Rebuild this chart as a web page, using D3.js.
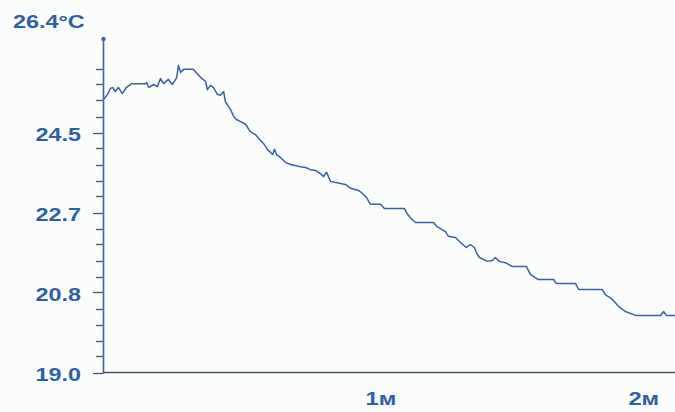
<!DOCTYPE html>
<html>
<head>
<meta charset="utf-8">
<title>Temperature log</title>
<style>
body { margin: 0; background: #fbfcfc; }
#chart { width: 675px; height: 412px; display: block; }
.lbl {
  font-family: "Liberation Sans", Arial, sans-serif;
  font-weight: bold;
  fill: #2f5fa6;
}
</style>
</head>
<body>
<svg id="chart" width="675" height="412"></svg>
<script src="https://d3js.org/d3.v7.min.js"></script>
<script>
// time in seconds, temperature in °C
const times = [0, 0.9, 1.6, 2.1, 2.7, 3.4, 4.3, 5.2, 6.4, 9.6, 9.8, 10.3, 11.4, 12.3, 13.0, 13.7,
  14.8, 15.7, 16.7, 17.1, 17.6, 18.3, 18.9, 20.5, 21.4, 22.4, 23.3, 23.7, 24.4, 25.1, 26.0, 26.7,
  27.4, 27.8, 29.0, 29.7, 30.3, 31.3, 32.4, 33.5, 34.7, 35.8, 36.7, 37.4, 38.6, 39.0, 39.5, 40.4,
  41.5, 42.7, 44.9, 46.1, 47.2, 48.4, 49.5, 50.2, 50.9, 51.8, 54.1, 55.2, 56.4, 58.2, 59.1, 60.0,
  60.9, 63.2, 64.1, 68.7, 69.1, 70.0, 71.2, 75.3, 76.0, 78.0, 78.7, 80.3, 81.4, 82.8, 83.7, 84.6,
  85.3, 85.8, 87.6, 88.7, 89.4, 90.3, 91.7, 93.3, 96.5, 97.4, 99.2, 102.7, 103.3, 107.7, 108.4, 113.8,
  114.5, 115.9, 117.5, 119.1, 121.4, 127.1, 127.8, 128.4, 130.5];
const temps = [25.31, 25.43, 25.57, 25.59, 25.50, 25.59, 25.45, 25.59, 25.68, 25.68, 25.71, 25.59, 25.66, 25.61, 25.80, 25.68,
  25.78, 25.66, 25.82, 26.10, 25.94, 26.01, 26.01, 26.01, 25.91, 25.80, 25.73, 25.54, 25.64, 25.59, 25.43, 25.41,
  25.50, 25.27, 25.08, 24.92, 24.85, 24.80, 24.74, 24.57, 24.50, 24.37, 24.27, 24.16, 24.04, 24.16, 24.04, 23.97,
  23.86, 23.81, 23.76, 23.74, 23.69, 23.67, 23.60, 23.53, 23.63, 23.42, 23.37, 23.35, 23.26, 23.21, 23.14, 23.05,
  22.89, 22.89, 22.79, 22.79, 22.70, 22.58, 22.47, 22.47, 22.38, 22.26, 22.15, 22.12, 22.01, 21.89, 21.96, 21.89,
  21.73, 21.66, 21.57, 21.59, 21.66, 21.57, 21.54, 21.45, 21.45, 21.27, 21.15, 21.15, 21.06, 21.06, 20.92, 20.92,
  20.80, 20.71, 20.53, 20.41, 20.32, 20.32, 20.41, 20.32, 20.32];

// axis labels
const yTickValues = [19.0, 20.85, 22.7, 24.55];
const yTickLabels = ["19.0", "20.8", "22.7", "24.5"];
const yTopLabel = "26.4°C";
const xTickValues = [60, 120];
const xTickLabels = ["1м", "2м"];

const data = times.map((t, i) => ({ t: t, v: temps[i] }));

const svg = d3.select("#chart");

const x = d3.scaleLinear().domain([0, 130.4]).range([103.5, 675]);
const y = d3.scaleLinear().domain([19.0, 26.4]).range([372.5, 52.5]);

// minor + major ticks on y
const step = (26.4 - 19.0) / 20;
const ticks = d3.range(0, 20).map(i => ({ v: 19.0 + i * step, major: i % 5 === 0 }));
svg.append("g").selectAll("line")
  .data(ticks)
  .join("line")
  .attr("x1", d => d.major ? 93 : 96)
  .attr("x2", 103.5)
  .attr("y1", d => Math.round(y(d.v)) + 0.5)
  .attr("y2", d => Math.round(y(d.v)) + 0.5)
  .attr("stroke", "#4a5670")
  .attr("stroke-width", 1.3);

// y axis line with a dot on top
svg.append("line")
  .attr("x1", 103.5).attr("x2", 103.5)
  .attr("y1", 38).attr("y2", 373)
  .attr("stroke", "#3a63a8").attr("stroke-width", 1.6);
svg.append("circle")
  .attr("cx", 103.5).attr("cy", 39).attr("r", 2.2)
  .attr("fill", "#3a63a8");

// x axis line
svg.append("line")
  .attr("x1", 103).attr("x2", 675)
  .attr("y1", 372.5).attr("y2", 372.5)
  .attr("stroke", "#4a5060").attr("stroke-width", 1.4);

// y labels (text looks horizontally stretched)
svg.append("g").selectAll("text")
  .data(yTickValues)
  .join("text")
  .attr("class", "lbl")
  .attr("text-anchor", "end")
  .attr("font-size", 18)
  .attr("transform", d => `translate(81,${y(d) + 8}) scale(1.3,1)`)
  .text((d, i) => yTickLabels[i]);

svg.append("text")
  .attr("class", "lbl")
  .attr("font-size", 18)
  .attr("transform", "translate(13,28) scale(1.3,1)")
  .text(yTopLabel);

// x labels
svg.append("g").selectAll("text")
  .data(xTickValues)
  .join("text")
  .attr("class", "lbl")
  .attr("font-size", 19)
  .attr("transform", d => `translate(${x(d) - 1},405) scale(1.25,1)`)
  .text((d, i) => xTickLabels[i]);

// temperature line
const line = d3.line()
  .x(d => x(d.t))
  .y(d => y(d.v));

svg.append("path")
  .datum(data)
  .attr("fill", "none")
  .attr("stroke", "#3a62a0")
  .attr("stroke-width", 1.5)
  .attr("stroke-linejoin", "round")
  .attr("d", line);
</script>
</body>
</html>
